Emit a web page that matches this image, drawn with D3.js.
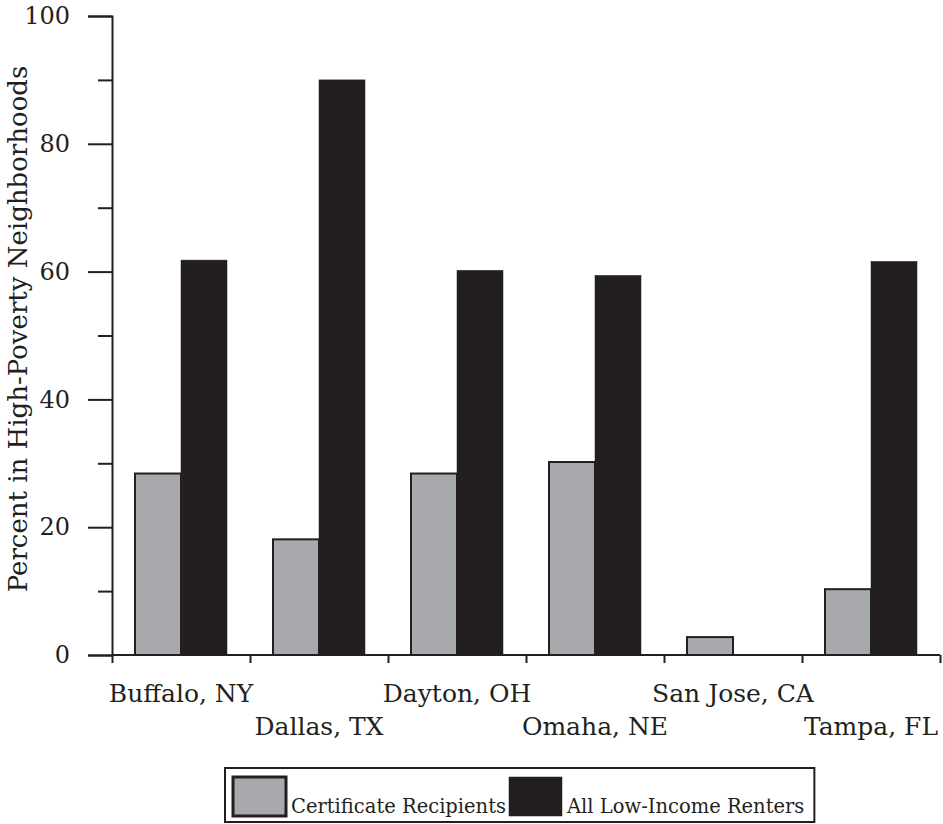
<!DOCTYPE html>
<html><head><meta charset="utf-8">
<script src="https://cdn.jsdelivr.net/npm/d3@7"></script>
<style>body{margin:0;background:#fff}svg{display:block}text{font-family:"DejaVu Serif",serif;fill:#231f20}</style>
</head><body><svg id="c" width="943" height="824"></svg>
<script>
const categories = ["Buffalo, NY","Dallas, TX","Dayton, OH","Omaha, NE","San Jose, CA","Tampa, FL"];
const certificateRecipients = [28.4, 18.1, 28.4, 30.2, 2.8, 10.3];
const allLowIncomeRenters = [61.8, 90.0, 60.2, 59.4, 0, 61.6];
const seriesNames = ["Certificate Recipients","All Low-Income Renters"];
const majorTicks = [0,20,40,60,80,100];
const minorTicks = [10,30,50,70,90];
const yTitle = "Percent in High-Poverty Neighborhoods";

const svg = d3.select("#c");
const ink = "#231f20", grey = "#a7a9ac";
const x = d3.scaleBand().domain(categories).range([112, 940]).padding(0);
const y = d3.scaleLinear().domain([0, 100]).range([655, 16]);
const sub = d3.scaleBand().domain(seriesNames).range([23, 115]).padding(0);
const colors = d3.scaleOrdinal().domain(seriesNames).range([grey, ink]);

// bars
const rows = categories.map((c, i) => ({c, vals: [certificateRecipients[i], allLowIncomeRenters[i]]}));
const g = svg.append("g");
rows.forEach(r => {
  r.vals.forEach((v, j) => {
    if (v <= 0) return;
    const s = seriesNames[j];
    g.append("rect")
      .attr("x", x(r.c) + sub(s))
      .attr("y", y(v))
      .attr("width", sub.bandwidth())
      .attr("height", y(0) - y(v))
      .attr("fill", colors(s))
      .attr("stroke", ink)
      .attr("stroke-width", j === 0 ? 2 : 0.5);
  });
});

// y axis
const yAxis = svg.append("g").attr("transform", "translate(112,0)")
  .call(d3.axisLeft(y).tickValues(majorTicks).tickSize(24).tickPadding(18).tickFormat(d3.format("d")));
yAxis.select(".domain").attr("stroke", ink).attr("stroke-width", 2);
yAxis.selectAll(".tick line").attr("stroke", ink).attr("stroke-width", 2);
yAxis.selectAll(".tick text").attr("font-size", 24).attr("font-family", "DejaVu Serif").attr("fill", ink);
const yMinor = svg.append("g").attr("transform", "translate(112,0)")
  .call(d3.axisLeft(y).tickValues(minorTicks).tickSize(14).tickFormat(""));
yMinor.select(".domain").remove();
yMinor.selectAll(".tick line").attr("stroke", ink).attr("stroke-width", 2);

// x axis
const bounds = categories.map(c => x(c)).concat([x.range()[1]]);
const xb = d3.scaleLinear().domain([112, 940]).range([112, 940]);
const xAxis = svg.append("g").attr("transform", "translate(0,655)")
  .call(d3.axisBottom(xb).tickValues(bounds).tickSize(8).tickFormat(""));
xAxis.select(".domain").attr("stroke", ink).attr("stroke-width", 2).attr("d", "M112,0H940");
xAxis.selectAll(".tick line").attr("stroke", ink).attr("stroke-width", 2);

svg.append("g").selectAll("text").data(categories).join("text")
  .attr("x", d => x(d) + x.bandwidth() / 2)
  .attr("y", (d, i) => i % 2 === 0 ? 702 : 735)
  .attr("text-anchor", "middle")
  .attr("font-size", 25)
  .text(d => d);

// y title
svg.append("text")
  .attr("transform", "translate(27,329) rotate(-90)")
  .attr("text-anchor", "middle")
  .attr("font-size", 26)
  .text(yTitle);

// legend
const lg = svg.append("g");
const box = lg.append("rect").attr("x", 225).attr("y", 768).attr("height", 54)
  .attr("fill", "#fff").attr("stroke", ink).attr("stroke-width", 2);
const legendX = [233, 509];
let endX = 0;
seriesNames.forEach((s, i) => {
  lg.append("rect").attr("x", legendX[i]).attr("y", 777).attr("width", 53).attr("height", 39)
    .attr("fill", colors(s)).attr("stroke", ink).attr("stroke-width", i === 0 ? 3 : 0.5);
  const t = lg.append("text").attr("x", legendX[i] + 58).attr("y", 813).attr("font-size", 19.5).text(s);
  endX = legendX[i] + 58 + t.node().getComputedTextLength();
});
box.attr("width", endX + 10 - 225);
</script></body></html>
